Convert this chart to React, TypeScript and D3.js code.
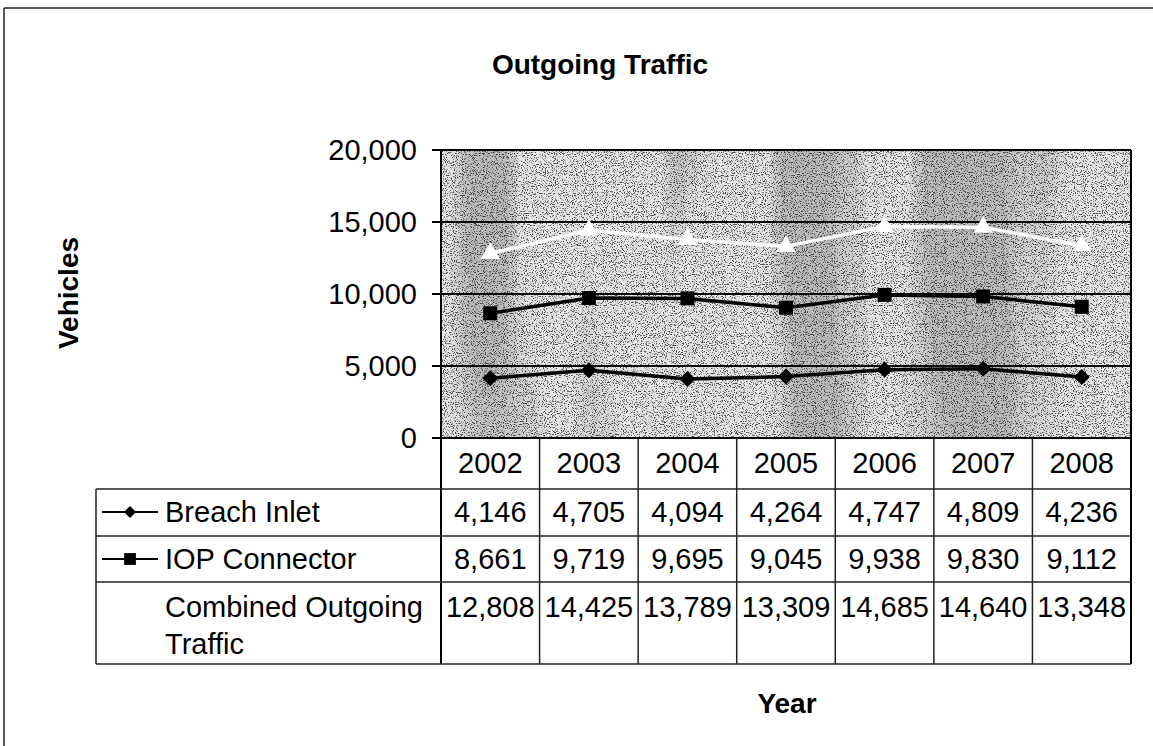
import React, { useRef, useEffect } from "react";
import * as d3 from "d3";

const years = ["2002", "2003", "2004", "2005", "2006", "2007", "2008"];
const breachInlet = [4146, 4705, 4094, 4264, 4747, 4809, 4236];
const iopConnector = [8661, 9719, 9695, 9045, 9938, 9830, 9112];
const combinedOutgoing = [12808, 14425, 13789, 13309, 14685, 14640, 13348];
const yTicks = [0, 5000, 10000, 15000, 20000];

const W = 1153;
const H = 746;
const FONT = "'Liberation Sans', Arial, sans-serif";

const App = () => {
  const svgRef = useRef<SVGSVGElement>(null);

  useEffect(() => {
    const svg = d3.select(svgRef.current);
    svg.selectAll("*").remove();

    const plot = { left: 441, right: 1131, top: 150, bottom: 438 };
    const table = { left: 96, rows: [489, 536, 582, 664] };

    const x = d3.scaleBand().domain(years).range([plot.left, plot.right]);
    const y = d3.scaleLinear().domain([0, 20000]).range([plot.bottom, plot.top]);
    const fmt = d3.format(",");

    // outer frame (only top and left survive in the scan)
    svg.append("line").attr("x1", 4).attr("y1", 8).attr("x2", W).attr("y2", 8)
      .attr("stroke", "#222").attr("stroke-width", 1.5);
    svg.append("line").attr("x1", 4).attr("y1", 8).attr("x2", 4).attr("y2", H)
      .attr("stroke", "#222").attr("stroke-width", 1.5);

    // title
    svg.append("text").attr("x", 600).attr("y", 64)
      .attr("text-anchor", "middle").attr("dominant-baseline", "central")
      .style("font-family", FONT).style("font-size", "28px").style("font-weight", "bold")
      .text("Outgoing Traffic");

    // grainy scanned background: light base, vertical gray bands, black speckle
    const defs = svg.append("defs");
    const fb = defs.append("filter").attr("id", "bands")
      .attr("x", 0).attr("y", 0).attr("width", "100%").attr("height", "100%");
    fb.append("feTurbulence").attr("type", "fractalNoise")
      .attr("baseFrequency", "0.014 0.0015").attr("numOctaves", 2).attr("seed", 5).attr("result", "b");
    fb.append("feColorMatrix").attr("in", "b").attr("type", "matrix")
      .attr("values", "0 0 0 0 0.5  0 0 0 0 0.5  0 0 0 0 0.5  -4.5 0 0 0 2.6");
    const f = defs.append("filter").attr("id", "grain")
      .attr("x", 0).attr("y", 0).attr("width", "100%").attr("height", "100%");
    f.append("feTurbulence").attr("type", "fractalNoise")
      .attr("baseFrequency", "0.9").attr("numOctaves", 2).attr("seed", 7).attr("result", "n");
    f.append("feColorMatrix").attr("in", "n").attr("type", "matrix")
      .attr("values", "0 0 0 0 0  0 0 0 0 0  0 0 0 0 0  -7 0 0 0 3.3");

    const pw = plot.right - plot.left;
    const ph = plot.bottom - plot.top;
    svg.append("rect").attr("x", plot.left).attr("y", plot.top).attr("width", pw).attr("height", ph)
      .attr("fill", "#e6e6e6");
    svg.append("rect").attr("x", plot.left).attr("y", plot.top).attr("width", pw).attr("height", ph)
      .attr("filter", "url(#bands)");
    svg.append("rect").attr("x", plot.left).attr("y", plot.top).attr("width", pw).attr("height", ph)
      .attr("filter", "url(#grain)").attr("opacity", 0.65);

    // gridlines and y ticks
    yTicks.forEach((t) => {
      svg.append("line").attr("x1", plot.left - 9).attr("x2", plot.right)
        .attr("y1", y(t)).attr("y2", y(t))
        .attr("stroke", "#000").attr("stroke-width", 2);
      svg.append("text").attr("x", 417).attr("y", y(t))
        .attr("text-anchor", "end").attr("dominant-baseline", "central")
        .style("font-family", FONT).style("font-size", "29px")
        .text(fmt(t));
    });
    svg.append("line").attr("x1", plot.left).attr("x2", plot.left)
      .attr("y1", plot.top).attr("y2", table.rows[3])
      .attr("stroke", "#000").attr("stroke-width", 2);
    svg.append("line").attr("x1", plot.right).attr("x2", plot.right)
      .attr("y1", plot.top).attr("y2", table.rows[3])
      .attr("stroke", "#000").attr("stroke-width", 2);

    // series
    const cx = (i: number) => (x(years[i]) as number) + x.bandwidth() / 2;
    const series = [
      { name: "Breach Inlet", values: breachInlet, color: "#000", marker: d3.symbolSquare, size: 130, rot: 45 },
      { name: "IOP Connector", values: iopConnector, color: "#000", marker: d3.symbolSquare, size: 196, rot: 0 },
      { name: "Combined Outgoing Traffic", values: combinedOutgoing, color: "#fff", marker: d3.symbolTriangle, size: 160, rot: 0 },
    ];
    const line = d3.line<number>().x((d, i) => cx(i)).y((d) => y(d));

    series.forEach((s) => {
      svg.append("path").datum(s.values).attr("d", line)
        .attr("fill", "none").attr("stroke", s.color).attr("stroke-width", 3.5);
      s.values.forEach((v, i) => {
        svg.append("path")
          .attr("d", d3.symbol().type(s.marker).size(s.size)())
          .attr("transform", `translate(${cx(i)},${y(v)}) rotate(${s.rot})`)
          .attr("fill", s.color);
      });
    });

    // data table
    const tStroke = "#222";
    years.forEach((yr, i) => {
      const xr = (x(yr) as number) + x.bandwidth();
      if (i < years.length - 1) {
        svg.append("line").attr("x1", xr).attr("x2", xr)
          .attr("y1", plot.bottom).attr("y2", table.rows[3])
          .attr("stroke", tStroke).attr("stroke-width", 1.5);
      }
      svg.append("text").attr("x", cx(i)).attr("y", 463)
        .attr("text-anchor", "middle").attr("dominant-baseline", "central")
        .style("font-family", FONT).style("font-size", "29px")
        .text(yr);
    });
    table.rows.forEach((ry) => {
      svg.append("line").attr("x1", table.left).attr("x2", plot.right)
        .attr("y1", ry).attr("y2", ry)
        .attr("stroke", tStroke).attr("stroke-width", 1.5);
    });
    svg.append("line").attr("x1", table.left).attr("x2", table.left)
      .attr("y1", table.rows[0]).attr("y2", table.rows[3])
      .attr("stroke", tStroke).attr("stroke-width", 1.5);

    const rowCenters = [512, 559, 607];
    series.forEach((s, r) => {
      const ry = rowCenters[r];
      if (r < 2) {
        svg.append("line").attr("x1", 102).attr("x2", 158).attr("y1", ry).attr("y2", ry)
          .attr("stroke", "#000").attr("stroke-width", 2);
        svg.append("path")
          .attr("d", d3.symbol().type(s.marker).size(r === 0 ? 72 : 140)())
          .attr("transform", `translate(130,${ry}) rotate(${s.rot})`)
          .attr("fill", "#000");
      }
      const label = svg.append("text").attr("x", 165).attr("y", ry)
        .attr("dominant-baseline", "central")
        .style("font-family", FONT).style("font-size", "29px");
      if (r === 2) {
        label.append("tspan").attr("x", 165).text("Combined Outgoing");
        label.append("tspan").attr("x", 165).attr("dy", 37).text("Traffic");
      } else {
        label.text(s.name);
      }
      s.values.forEach((v, i) => {
        svg.append("text").attr("x", cx(i)).attr("y", ry)
          .attr("text-anchor", "middle").attr("dominant-baseline", "central")
          .style("font-family", FONT).style("font-size", "29px")
          .text(fmt(v));
      });
    });

    // axis titles
    svg.append("text").attr("transform", "translate(68,293) rotate(-90)")
      .attr("text-anchor", "middle").attr("dominant-baseline", "central")
      .style("font-family", FONT).style("font-size", "28px").style("font-weight", "bold")
      .text("Vehicles");
    svg.append("text").attr("x", 787).attr("y", 703)
      .attr("text-anchor", "middle").attr("dominant-baseline", "central")
      .style("font-family", FONT).style("font-size", "28px").style("font-weight", "bold")
      .text("Year");
  }, []);

  return (
    <svg
      ref={svgRef}
      width={W}
      height={H}
      style={{ position: "absolute", left: 0, top: 0, background: "#fff" }}
    />
  );
};

export default App;
